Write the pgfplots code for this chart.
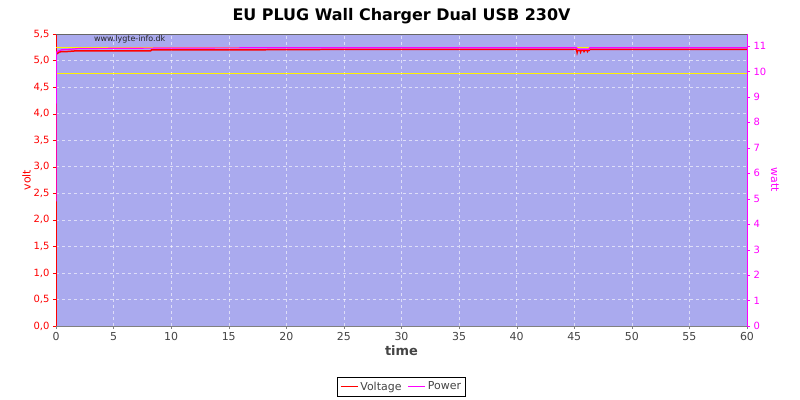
\documentclass[border=0pt]{standalone}
\usepackage{pgfplots}
\pgfplotsset{compat=1.18}
\usepackage{fontspec}
\setmainfont{DejaVu Sans}
\definecolor{bgc}{RGB}{170,170,238}
\definecolor{tickgray}{RGB}{68,68,68}
\definecolor{mag}{RGB}{255,0,255}
\begin{document}
\begin{tikzpicture}
\useasboundingbox (0,0) rectangle (800bp,400bp);
\begin{axis}[
  at={(56bp,74bp)}, anchor=south west,
  width=691bp, height=292bp, scale only axis,
  xmin=0, xmax=60, ymin=0, ymax=5.5,
  axis background/.style={fill=bgc},
  xtick={0,5,...,60},
  ytick={0,0.5,...,5.5},
  grid=major,
  major grid style={white, dashed, line width=0.5pt, opacity=0.6},
  axis x line*=bottom, axis y line*=left,
  x axis line style={draw=gray, line width=0.8pt},
  y axis line style={draw=red, line width=0.8pt},
  xtick style={draw=gray},
  ytick style={draw=red},
  tick align=outside,
  major tick length=3bp,
  /pgf/number format/assume math mode=true,
  yticklabel style={text=red, font=\fontsize{10}{12}\selectfont, /pgf/number format/.cd, fixed, fixed zerofill, precision=1, use comma},
  xticklabel style={text=tickgray, font=\fontsize{11}{13}\selectfont},
  ylabel={volt}, ylabel style={text=red, font=\fontsize{11}{13}\selectfont, yshift=-4bp},
  xlabel={time}, xlabel style={text=tickgray, font=\bfseries\fontsize{13}{15}\selectfont, yshift=2bp},
  title={EU PLUG Wall Charger Dual USB 230V},
  title style={font=\bfseries\fontsize{16}{19}\selectfont, yshift=1bp},
  clip=true,
]
\draw[gray!80!black, line width=0.8pt] (rel axis cs:0,1) -- (rel axis cs:1,1);
\draw[gray!80!black, line width=0.8pt] (rel axis cs:1,0) -- (rel axis cs:1,1);
\addplot[yellow, line width=1.2pt, forget plot] coordinates {(0,5.25) (60,5.25)};
\addplot[yellow, line width=1.2pt, forget plot] coordinates {(0,4.75) (60,4.75)};
\addplot[red, line width=1.5pt, forget plot] coordinates {
(0,2.37) (0.02,5.12) (0.15,5.14) (0.3,5.16) (0.5,5.17) (1.0,5.17) (1.6,5.18) (3,5.18) (5,5.18) (8.2,5.18) (8.3,5.20) (15,5.20) (25,5.21) (45.2,5.21)
(45.25,5.15) (45.3,5.19) (45.5,5.19) (45.55,5.16) (45.6,5.19) (45.8,5.19) (45.85,5.17) (45.9,5.19) (46.1,5.19) (46.15,5.17) (46.2,5.19) (46.3,5.19) (46.32,5.21) (60,5.21)};
\node[font=\fontsize{8}{9}\selectfont, text=black!85, anchor=west] at (axis cs:3,5.4) {www.lygte-info.dk};
\end{axis}
\begin{axis}[
  at={(56bp,74bp)}, anchor=south west,
  width=691bp, height=292bp, scale only axis,
  xmin=0, xmax=60, ymin=0, ymax=11.47,
  axis x line=none,
  axis y line*=right,
  y axis line style={draw=mag, line width=0.8pt},
  ytick={0,1,...,11},
  ytick style={draw=mag},
  tick align=outside,
  major tick length=3bp,
  /pgf/number format/assume math mode=true,
  yticklabel style={text=mag, font=\fontsize{10}{12}\selectfont},
  ylabel={watt}, ylabel style={text=mag, font=\fontsize{11}{13}\selectfont, rotate=180, yshift=-2bp},
  legend style={at={(0.5,-0.175)}, anchor=north, legend columns=2, draw=black, font=\fontsize{11}{13}\selectfont, text=tickgray, inner sep=2.5bp, /tikz/every even column/.append style={column sep=4bp}},
  legend image post style={line width=1.5pt},
]
\addlegendimage{red, line width=1.5pt}
\addlegendentry{Voltage}
\addplot[mag, line width=1.2pt] coordinates {
(0,4.9) (0.02,10.75) (0.2,10.8) (0.5,10.85) (1.5,10.88) (2,10.9) (10,10.92) (20,10.93) (45.2,10.93) (45.3,10.87) (46.3,10.87) (46.35,10.93) (60,10.93)};
\addlegendentry{Power}
\end{axis}
\end{tikzpicture}
\end{document}
